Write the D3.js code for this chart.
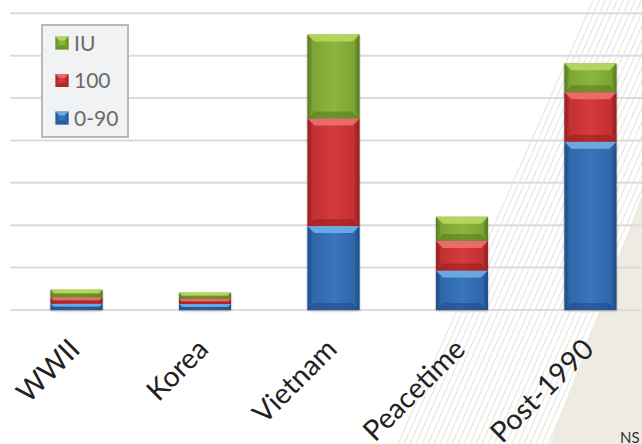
<!DOCTYPE html>
<html><head><meta charset="utf-8">
<script src="https://cdn.jsdelivr.net/npm/d3@7"></script>
<style>body{margin:0;background:#fff}svg{display:block}</style>
</head><body>
<svg id="c" width="642" height="444"></svg>
<script>
const categories = ["WWII","Korea","Vietnam","Peacetime","Post-1990"];
const series = ["0-90","100","IU"];
const v0_90 = [1.5, 1.4, 19.8, 9.3, 39.7];
const v100  = [1.5, 1.2, 25.4, 7.0, 11.7];
const vIU   = [1.8, 1.5, 19.8, 5.7, 6.8];
const yTicks = [0,10,20,30,40,50,60,70];
const legendOrder = ["IU","100","0-90"];

const colors = {
  "0-90": {main:"#3a75bd", light:"#72b4ea", dark:"#1f4d8a", mid:"#2f66a8"},
  "100":  {main:"#d63a3e", light:"#f07474", dark:"#99201f", mid:"#c02f33"},
  "IU":   {main:"#8cb73c", light:"#bcdb62", dark:"#5c7c22", mid:"#7ba433"}
};

const svg = d3.select("#c");
const W = 642, H = 444;
const defs = svg.append("defs");

// background decoration
const bg = svg.append("g");
const stripes = d3.range(0, 30).map(i => 398 + i*6);
bg.selectAll("line.str").data(stripes).join("line")
  .attr("x1", d => d).attr("y1", H)
  .attr("x2", d => d + 0.44*H).attr("y2", 0)
  .attr("stroke", "#e9e7e2").attr("stroke-width", 1.2);
bg.append("path")
  .attr("d", "M550,444 L640,200 L646,185 L646,444 Z")
  .attr("fill", "#eeebe3");

const data = categories.map((c,i) => ({cat:c, "0-90":v0_90[i], "100":v100[i], "IU":vIU[i]}));
const stack = d3.stack().keys(series)(data);

const x = d3.scaleBand().domain(categories).range([12, 655]).paddingInner(0.595).paddingOuter(0.3);
const y = d3.scaleLinear().domain([0, 70]).range([310, 13.3]);

// gridlines
svg.append("g").selectAll("line").data(yTicks).join("line")
  .attr("x1", 10).attr("x2", W)
  .attr("y1", d => y(d)).attr("y2", d => y(d))
  .attr("stroke", "#dcdcdc").attr("stroke-width", 2);

// gradients
series.forEach(k => {
  const g = defs.append("linearGradient").attr("id","g"+k.replace(/[^a-z0-9]/gi,"_"))
    .attr("x1","0").attr("x2","1").attr("y1","0").attr("y2","0");
  g.append("stop").attr("offset","0").attr("stop-color",colors[k].dark);
  g.append("stop").attr("offset","0.08").attr("stop-color",colors[k].mid);
  g.append("stop").attr("offset","0.5").attr("stop-color",colors[k].main);
  g.append("stop").attr("offset","0.92").attr("stop-color",colors[k].mid);
  g.append("stop").attr("offset","1").attr("stop-color",colors[k].dark);
});
const filt = defs.append("filter").attr("id","sh").attr("x","-20%").attr("y","-20%").attr("width","140%").attr("height","140%");
filt.append("feGaussianBlur").attr("in","SourceAlpha").attr("stdDeviation",1.2).attr("result","b");
filt.append("feOffset").attr("in","b").attr("dx",0).attr("dy",1).attr("result","o");
filt.append("feComponentTransfer").attr("in","o").attr("result","o2").append("feFuncA").attr("type","linear").attr("slope",0.35);
const fm = filt.append("feMerge"); fm.append("feMergeNode").attr("in","o2"); fm.append("feMergeNode").attr("in","SourceGraphic");

function bevelBox(g, bx, by, bw, bh, k, bev) {
  const c = colors[k];
  const b = Math.min(bev, bh/2, bw/2);
  g.append("rect").attr("x",bx).attr("y",by).attr("width",bw).attr("height",bh)
    .attr("fill","url(#g"+k.replace(/[^a-z0-9]/gi,"_")+")");
  g.append("path").attr("d",`M${bx},${by}L${bx+bw},${by}L${bx+bw-b},${by+b}L${bx+b},${by+b}Z`)
    .attr("fill",c.light).attr("opacity",0.85);
  g.append("path").attr("d",`M${bx},${by+bh}L${bx+bw},${by+bh}L${bx+bw-b},${by+bh-b}L${bx+b},${by+bh-b}Z`)
    .attr("fill",c.dark).attr("opacity",0.6);
  g.append("path").attr("d",`M${bx},${by}L${bx+b*0.6},${by+b}L${bx+b*0.6},${by+bh-b}L${bx},${by+bh}Z`)
    .attr("fill",c.dark).attr("opacity",0.35);
  g.append("path").attr("d",`M${bx+bw},${by}L${bx+bw-b*0.6},${by+b}L${bx+bw-b*0.6},${by+bh-b}L${bx+bw},${by+bh}Z`)
    .attr("fill",c.dark).attr("opacity",0.45);
}

const barsG = svg.append("g");
categories.forEach((cat, i) => {
  const g = barsG.append("g").attr("filter","url(#sh)");
  stack.forEach(s => {
    const d = s[i];
    const y0 = y(d[1]), y1 = y(d[0]);
    bevelBox(g, x(cat), y0, x.bandwidth(), y1 - y0, s.key, 7);
  });
});

// x labels
svg.append("g").selectAll("text").data(categories).join("text")
  .attr("transform", d => `translate(${x(d)+x.bandwidth()/2+5},${351}) rotate(-45)`)
  .attr("text-anchor","end")
  .attr("font-family","Lato, 'Open Sans', sans-serif")
  .attr("font-weight", 400)
  .attr("font-size", 28.5)
  .attr("fill","#222")
  .text(d => d);

// legend
const lg = svg.append("g");
lg.append("rect").attr("x",42).attr("y",25).attr("width",86).attr("height",112)
  .attr("fill","#f1f2f4").attr("stroke","#b9b9b9").attr("stroke-width",2);
legendOrder.forEach((k, i) => {
  const cy = 43 + i*37.5;
  const gg = lg.append("g");
  bevelBox(gg, 55.5, cy-6.5, 13, 13, k, 4);
  lg.append("text").attr("x",74).attr("y",cy+7.5)
    .attr("font-family","Lato, 'Open Sans', sans-serif").attr("font-size",21)
    .attr("fill","#6a6a6a").text(k);
});

// cropped footer text
svg.append("text").attr("x",620).attr("y",443)
  .attr("font-family","Lato, 'Open Sans', sans-serif").attr("font-size",15)
  .attr("fill","#333").text("NS");
</script>
</body></html>
